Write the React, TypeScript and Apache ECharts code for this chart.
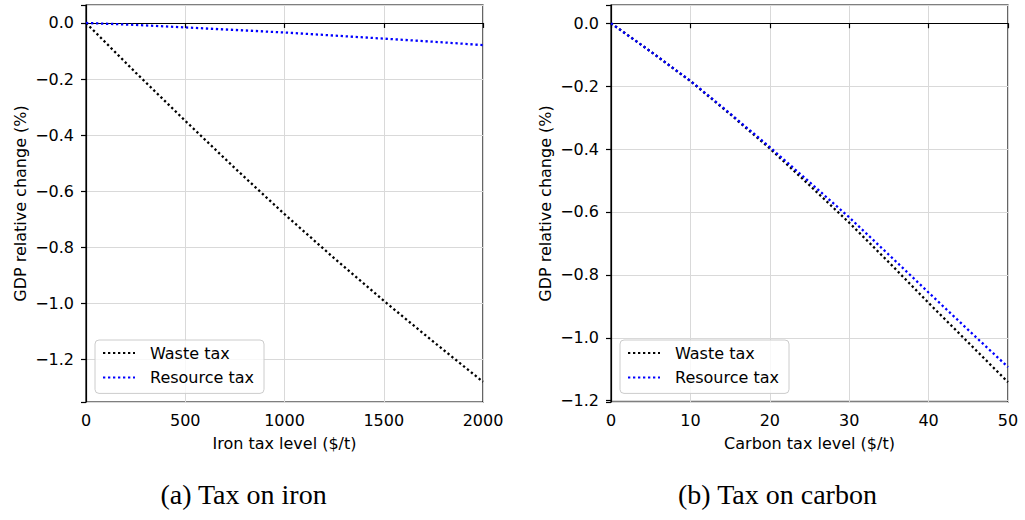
import React, { useEffect, useRef } from "react";
import * as echarts from "echarts";

const ironTax = [0, 250, 500, 750, 1000, 1250, 1500, 1750, 2000];
const ironWaste = [0, -0.177, -0.349, -0.518, -0.682, -0.839, -0.991, -1.137, -1.28];
const ironResource = [0, -0.007, -0.016, -0.025, -0.034, -0.045, -0.056, -0.067, -0.079];

const carbonTax = [0, 5, 10, 15, 20, 25, 30, 35, 40, 45, 50];
const carbonWaste = [0, -0.09, -0.184, -0.289, -0.398, -0.515, -0.634, -0.76, -0.889, -1.015, -1.141];
const carbonResource = [0, -0.09, -0.183, -0.287, -0.394, -0.505, -0.617, -0.736, -0.856, -0.975, -1.093];

const seriesNames = ["Waste tax", "Resource tax"];
const captions = ["(a) Tax on iron", "(b) Tax on carbon"];
const xNames = ["Iron tax level ($/t)", "Carbon tax level ($/t)"];
const yName = "GDP relative change (%)";

const FONT = "DejaVu Sans";

const fmtY = (v: number) => {
  const k = Math.round(v / 0.2);
  if (Math.abs(v - k * 0.2) > 1e-6) return "";
  const r = k * 0.2;
  if (Math.abs(r) < 1e-9) return "0.0";
  return (r < 0 ? "\u2212" : "") + Math.abs(r).toFixed(1);
};
const fmtX = (v: number) => String(Math.round(v));

const pairs = (xs: number[], ys: number[]) => xs.map((x, i) => [x, ys[i]]);

export default function App() {
  const ref = useRef<HTMLDivElement>(null);
  useEffect(() => {
    if (!ref.current) return;
    const chart = echarts.init(ref.current, null, { renderer: "svg" });
    const grids = [
      { left: 86, top: 5, width: 397, height: 397 },
      { left: 611, top: 5, width: 397, height: 397 },
    ];
    const gridOpt = grids.map((g) => ({
      ...g,
      show: true,
      borderColor: "#000",
      borderWidth: 1.2,
      backgroundColor: "transparent",
      containLabel: false,
    }));
    const axisCommon = {
      axisLine: { show: true, lineStyle: { color: "#000", width: 1.2 } },
      axisTick: { show: true, length: 5, inside: false, lineStyle: { color: "#000", width: 1.2 } },
      splitLine: { show: true, lineStyle: { color: "#d9d9d9", width: 1 } },
      nameTextStyle: { fontFamily: FONT, fontSize: 16, color: "#000" },
    };
    const xMax = [2000, 50];
    const xInt = [500, 10];
    const xAxis = [0, 1].map((i) => ({
      type: "value",
      gridIndex: i,
      min: 0,
      max: xMax[i],
      interval: xInt[i],
      name: xNames[i],
      nameLocation: "middle",
      nameGap: 33,
      ...axisCommon,
      axisLabel: {
        fontFamily: FONT,
        fontSize: 16,
        color: "#000",
        margin: 10,
        showMaxLabel: true,
        showMinLabel: true,
        formatter: fmtX,
      },
    }));
    const yMin = [-1.352, -1.204];
    const yMax = [0.064, 0.058];
    const ySplit = [7, 6];
    const yAxis = [0, 1].map((i) => ({
      type: "value",
      gridIndex: i,
      min: yMin[i],
      max: yMax[i],
      splitNumber: ySplit[i],
      name: yName,
      nameLocation: "middle",
      nameGap: 58,
      nameRotate: 90,
      ...axisCommon,
      axisLabel: {
        fontFamily: FONT,
        fontSize: 16,
        color: "#000",
        margin: 12,
        formatter: fmtY,
      },
    }));
    const mkLine = (name: string, color: string, i: number, data: number[][]) => ({
      type: "line",
      name,
      xAxisIndex: i,
      yAxisIndex: i,
      data,
      showSymbol: false,
      symbol: "none",
      lineStyle: { color, width: 2.3, type: [2.3, 2.7] },
      itemStyle: { color },
      emphasis: { disabled: true },
    });
    const series = [
      mkLine(seriesNames[0], "#000000", 0, pairs(ironTax, ironWaste)),
      mkLine(seriesNames[1], "#0000ff", 0, pairs(ironTax, ironResource)),
      mkLine(seriesNames[0], "#000000", 1, pairs(carbonTax, carbonWaste)),
      mkLine(seriesNames[1], "#0000ff", 1, pairs(carbonTax, carbonResource)),
    ];
    const legendLeft = [95, 620];
    const legend = legendLeft.map((l) => ({
      orient: "vertical",
      left: l,
      top: 340,
      data: seriesNames,
      itemWidth: 32,
      itemHeight: 14,
      itemGap: 8.4,
      padding: [5, 10, 8, 7],
      backgroundColor: "rgba(255,255,255,0.8)",
      borderColor: "#cccccc",
      borderWidth: 1,
      borderRadius: 4,
      selectedMode: false,
      itemStyle: {
        color: "rgba(0,0,0,0)",
        borderColor: "rgba(0,0,0,0)",
        borderWidth: 0,
      },
      textStyle: { fontFamily: FONT, fontSize: 16, lineHeight: 16, color: "#000", padding: [0, 0, 0, 10] },
    }));
    const caption = (text: string, x: number) => ({
      type: "text",
      x,
      y: 494,
      style: {
        text,
        fontFamily: "Liberation Serif",
        fontSize: 28,
        fill: "#000",
        textAlign: "center",
        textVerticalAlign: "middle",
      },
    });
    chart.setOption({
      animation: false,
      backgroundColor: "#ffffff",
      grid: gridOpt,
      xAxis,
      yAxis,
      legend,
      series,
      graphic: [caption(captions[0], 243.5), caption(captions[1], 777.5)],
    });
    return () => chart.dispose();
  }, []);
  return (
    <div
      ref={ref}
      style={{ position: "fixed", left: 0, top: 0, width: 1025, height: 520 }}
    />
  );
}
